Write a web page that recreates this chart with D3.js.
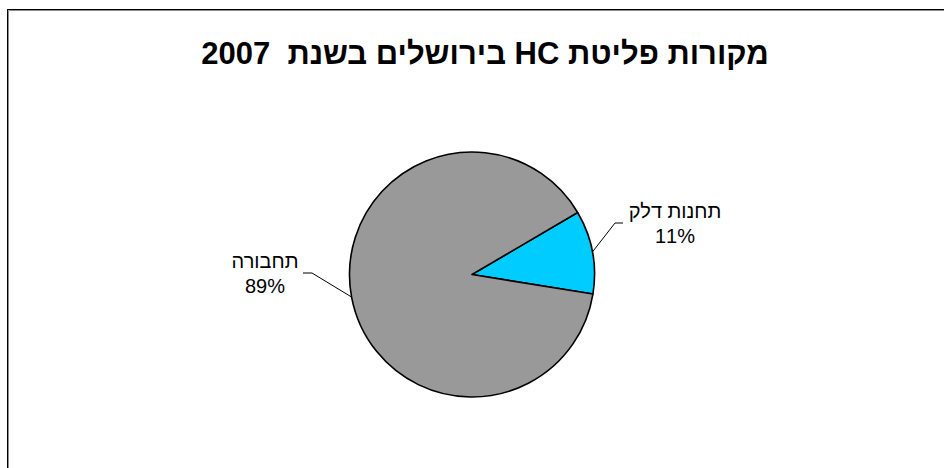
<!DOCTYPE html>
<html lang="he">
<head>
<meta charset="utf-8">
<script src="https://cdn.jsdelivr.net/npm/d3@7/dist/d3.min.js"></script>
<style>
  html, body { margin: 0; padding: 0; background: #fff; }
  svg { display: block; }
  text { font-family: "Liberation Sans", Arial, sans-serif; white-space: pre; }
</style>
</head>
<body>
<svg id="chart" width="944" height="468"></svg>
<script>
// Sources of HC emissions in Jerusalem, 2007 (percent)
const categories = ["תחנות דלק", "תחבורה"];
const values = [11, 89];
const percentLabels = ["11%", "89%"];
const colors = ["#00CCFF", "#999999"];
const title = "מקורות פליטת HC בירושלים בשנת  2007";

const svg = d3.select("#chart");

// chart frame
svg.append("rect")
  .attr("x", 7.5).attr("y", 9.5)
  .attr("width", 960).attr("height", 480)
  .attr("fill", "#fff")
  .attr("stroke", "#000").attr("stroke-width", 1);
svg.append("path")
  .attr("d", "M8.5,480V10.5H960")
  .attr("fill", "none")
  .attr("stroke", "#8c8c8c").attr("stroke-width", 1);

// title
svg.append("text")
  .attr("x", 485).attr("y", 64)
  .attr("text-anchor", "middle")
  .attr("direction", "rtl")
  .attr("font-size", 31)
  .attr("font-weight", "bold")
  .attr("fill", "#000")
  .text(title);

// pie
const cx = 472, cy = 274.5, radius = 122.5;
const startDeg = 59.6;
const pie = d3.pie().sort(null)
  .startAngle(startDeg * Math.PI / 180)
  .endAngle((startDeg + 360) * Math.PI / 180);
const arcs = pie(values);
const arc = d3.arc().innerRadius(0).outerRadius(radius);

const g = svg.append("g").attr("transform", `translate(${cx},${cy})`);
g.selectAll("path.slice")
  .data(arcs)
  .join("path")
  .attr("class", "slice")
  .attr("d", arc)
  .attr("fill", (d, i) => colors[i])
  .attr("stroke", "#000")
  .attr("stroke-width", 1.6)
  .attr("stroke-linejoin", "round");

// label layout: text centre, first baseline, and leader elbow (absolute page coords)
const labelLayout = [
  { x: 675, y: 218, elbow: [615, 223], end: [623, 223] },
  { x: 265, y: 268, elbow: [312, 273], end: [303, 273] }
];

arcs.forEach((d, i) => {
  const mid = (d.startAngle + d.endAngle) / 2;
  const px = cx + radius * Math.sin(mid);
  const py = cy - radius * Math.cos(mid);
  const L = labelLayout[i];
  svg.append("path")
    .attr("d", d3.line()([[px, py], L.elbow, L.end]))
    .attr("fill", "none")
    .attr("stroke", "#000")
    .attr("stroke-width", 1);
  const t = svg.append("text")
    .attr("text-anchor", "middle")
    .attr("font-size", 20)
    .attr("fill", "#000");
  t.append("tspan")
    .attr("x", L.x).attr("y", L.y)
    .attr("direction", "rtl")
    .text(categories[i]);
  t.append("tspan")
    .attr("x", L.x).attr("y", L.y + 25)
    .text(percentLabels[i]);
});
</script>
</body>
</html>
